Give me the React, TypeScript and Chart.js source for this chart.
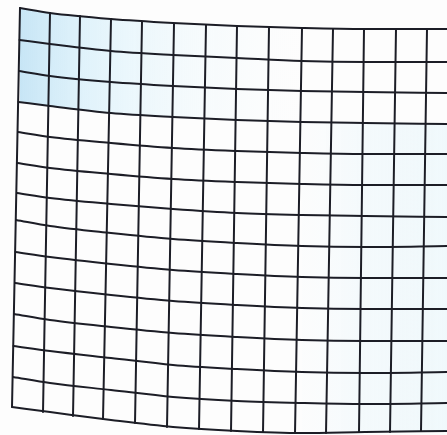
import React, { useEffect, useRef } from "react";
import { Chart, registerables } from "chart.js";

Chart.register(...registerables);

// x positions (px of the photo) where each horizontal grid line was sampled (after its left end)
const curveX = [50, 111, 173, 237, 302, 365, 447];
// left end of each horizontal line (on the left edge of the sheet)
const rowLeftX = [20, 19.5, 19, 18.5, 18, 17.5, 17, 16, 15.5, 15, 14, 13.5, 13, 12];

// y of each horizontal line at its left end, then at curveX
const row01 = [8, 13, 19, 23, 26, 28, 29, 29];
const row02 = [40, 44, 51, 55, 58, 61, 62, 62];
const row03 = [71, 76, 82, 86, 89, 91, 92, 93];
const row04 = [102, 106, 113, 117, 120, 122, 123, 124];
const row05 = [132, 137, 143, 148, 151, 153, 154, 154];
const row06 = [163, 168, 174, 179, 182, 184, 185, 185];
const row07 = [193, 198, 204, 209, 213, 215, 216, 217];
const row08 = [220, 226, 233, 239, 243, 246, 247, 246];
const row09 = [252, 257, 264, 270, 274, 277, 278, 278];
const row10 = [283, 288, 295, 301, 305, 308, 309, 309];
const row11 = [314, 320, 327, 333, 337, 340, 341, 341];
const row12 = [346, 351, 358, 365, 369, 372, 373, 372];
const row13 = [377, 383, 390, 397, 401, 403, 404, 403];
const row14 = [407, 412, 420, 427, 431, 433, 432, 431];
const rows = [row01, row02, row03, row04, row05, row06, row07, row08, row09, row10, row11, row12, row13, row14];

// vertical lines: ends on the top edge and on the bottom edge
const colTopX = [20, 50, 80, 111, 142, 174, 206, 237, 269, 302, 333, 364, 396, 427];
const colTopY = [8, 13, 16, 19, 22, 24, 25, 26, 27, 28, 29, 29, 29, 29];
const colBotX = [12, 43, 73, 103, 135, 167, 199, 231, 263, 295, 326, 359, 390, 421];
const colBotY = [407, 412, 416, 419, 423, 427, 429, 431, 432, 433, 433, 432, 432, 431];

const LINE = "#1c1d26";

function rowPoints(r: number, from = 0, to = 8) {
  const ys = rows[r];
  const xs = [rowLeftX[r], ...curveX];
  const pts = [];
  for (let i = from; i < to; i++) pts.push({ x: xs[i], y: ys[i] });
  return pts;
}

export default function App() {
  const ref = useRef<HTMLCanvasElement | null>(null);

  useEffect(() => {
    document.body.style.margin = "0";
    const canvas = ref.current;
    if (!canvas) return;

    const datasets: any[] = [];

    // light blue tint, top-left corner (between top edge and 4th line)
    datasets.push({
      data: rowPoints(0, 0, 6),
      borderWidth: 0,
      pointRadius: 0,
      cubicInterpolationMode: "monotone",
      order: 5,
    });
    datasets.push({
      data: rowPoints(3, 0, 6),
      borderWidth: 0,
      pointRadius: 0,
      cubicInterpolationMode: "monotone",
      fill: 0,
      order: 5,
      backgroundColor: (c: any) => {
        const chart = c.chart;
        if (!chart.chartArea) return "rgba(0,0,0,0)";
        const sx = chart.scales.x;
        const g = chart.ctx.createLinearGradient(sx.getPixelForValue(15), 0, sx.getPixelForValue(300), 0);
        g.addColorStop(0, "rgba(160,212,240,0.6)");
        g.addColorStop(0.25, "rgba(190,230,248,0.45)");
        g.addColorStop(0.6, "rgba(215,242,252,0.22)");
        g.addColorStop(1, "rgba(235,250,255,0)");
        return g;
      },
    });
    // faint tint on the right
    datasets.push({
      data: rowPoints(3, 5, 8),
      borderWidth: 0,
      pointRadius: 0,
      cubicInterpolationMode: "monotone",
      order: 5,
    });
    datasets.push({
      data: rowPoints(13, 5, 8),
      borderWidth: 0,
      pointRadius: 0,
      cubicInterpolationMode: "monotone",
      fill: 2,
      order: 5,
      backgroundColor: (c: any) => {
        const chart = c.chart;
        if (!chart.chartArea) return "rgba(0,0,0,0)";
        const sx = chart.scales.x;
        const g = chart.ctx.createLinearGradient(sx.getPixelForValue(310), 0, sx.getPixelForValue(447), 0);
        g.addColorStop(0, "rgba(225,245,252,0.05)");
        g.addColorStop(0.35, "rgba(220,242,251,0.25)");
        g.addColorStop(1, "rgba(215,240,250,0.35)");
        return g;
      },
    });

    // horizontal lines
    rows.forEach((_, r) => {
      datasets.push({
        data: rowPoints(r),
        borderColor: LINE,
        borderWidth: 2,
        pointRadius: 0,
        cubicInterpolationMode: "monotone",
        fill: false,
        order: 0,
      });
    });
    // vertical lines
    colTopX.forEach((x, i) => {
      datasets.push({
        data: [
          { x, y: colTopY[i] },
          { x: colBotX[i], y: colBotY[i] },
        ],
        borderColor: LINE,
        borderWidth: 2,
        pointRadius: 0,
        fill: false,
        order: 0,
      });
    });

    const chart = new Chart(canvas, {
      type: "scatter",
      data: { datasets },
      options: {
        animation: false,
        responsive: false,
        showLine: true,
        layout: { padding: 0 },
        plugins: { legend: { display: false }, tooltip: { enabled: false } },
        scales: {
          x: { type: "linear", min: 0, max: 447, display: false },
          y: { type: "linear", min: 0, max: 435, reverse: true, display: false },
        },
        elements: { line: { borderCapStyle: "round", borderJoinStyle: "round" } },
      },
    } as any);
    return () => chart.destroy();
  }, []);

  return (
    <div style={{ position: "fixed", left: 0, top: 0, width: 447, height: 435, background: "#fdfdfd" }}>
      <canvas ref={ref} width={447} height={435} style={{ display: "block", width: 447, height: 435 }} />
    </div>
  );
}
